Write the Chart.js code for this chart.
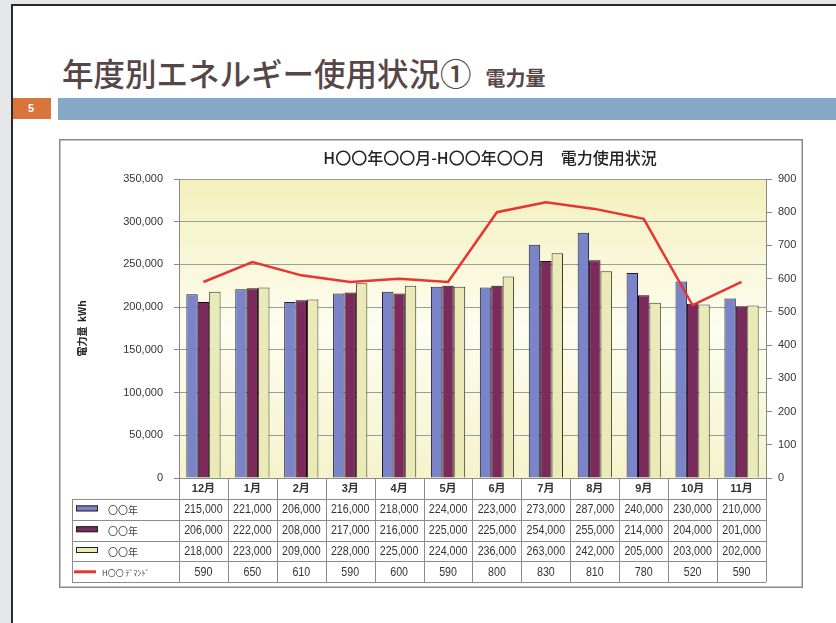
<!DOCTYPE html>
<html lang="ja">
<head>
<meta charset="utf-8">
<script src="https://cdn.jsdelivr.net/npm/chart.js@4"></script>
<style>
  html, body { margin: 0; padding: 0; }
  body { width: 836px; height: 623px; background: #e6e7e9; position: relative; overflow: hidden;
         font-family: "Noto Sans CJK JP", "Noto Sans", sans-serif; }
  #slide { position: absolute; left: 11px; top: 4px; width: 840px; height: 640px; background: #fff;
           border-left: 2px solid #2a2a2a; border-top: 2px solid #2a2a2a; }
  #titre { position: absolute; left: 62px; top: 49px; font-size: 31.5px; color: #574646; font-weight: 500;
           white-space: nowrap; }
  #titre small { font-size: 20px; font-weight: 700; margin-left: 14px; }
  #so { position: absolute; left: 13px; top: 98px; width: 38px; height: 21px; background: #d9743a;
        color: #fff; font: bold 11px "Liberation Sans", sans-serif; line-height: 21px; padding-left: 15px; box-sizing: border-box; }
  #thanh { position: absolute; left: 58px; top: 98px; width: 778px; height: 22px; background: #85a8c7; }
  #khung { position: absolute; left: 59px; top: 139px; width: 744px; height: 449px; }
</style>
</head>
<body>
<div id="slide"></div>
<div id="titre">年度別エネルギー使用状況①<small>電力量</small></div>
<div id="so">5</div>
<div id="thanh"></div>
<div id="khung"><canvas id="bieuDo"></canvas></div>
<script>
// Dữ liệu
const thang = ['12月', '1月', '2月', '3月', '4月', '5月', '6月', '7月', '8月', '9月', '10月', '11月'];
const tieuDe = 'H〇〇年〇〇月-H〇〇年〇〇月　電力使用状況';
const tenNam1 = '〇〇年';
const tenNam2 = '〇〇年';
const tenNam3 = '〇〇年';
const tenDemand = 'H〇〇 ﾃﾞﾏﾝﾄﾞ';
const nam1 = [215000, 221000, 206000, 216000, 218000, 224000, 223000, 273000, 287000, 240000, 230000, 210000];
const nam2 = [206000, 222000, 208000, 217000, 216000, 225000, 225000, 254000, 255000, 214000, 204000, 201000];
const nam3 = [218000, 223000, 209000, 228000, 225000, 224000, 236000, 263000, 242000, 205000, 203000, 202000];
const demand = [590, 650, 610, 590, 600, 590, 800, 830, 810, 780, 520, 590];

const mauNam1 = '#7b83c9';
const mauNam2 = '#7a2a5b';
const mauNam3 = '#eae9b8';
const mauDemand = '#e8352f';

// Nền khung + vùng vẽ + tiêu đề
const nenPlugin = {
    id: 'nen',
    beforeDraw(chart) {
        const ctx = chart.ctx;
        const a = chart.chartArea;
        ctx.save();
        ctx.fillStyle = '#ffffff';
        ctx.fillRect(0, 0, chart.width, chart.height);
        const g = ctx.createLinearGradient(0, a.top, 0, a.bottom);
        g.addColorStop(0, '#f3f0bb');
        g.addColorStop(0.5, '#fdfdf1');
        g.addColorStop(1, '#f5f3cb');
        ctx.fillStyle = g;
        ctx.fillRect(a.left, a.top, a.right - a.left, a.bottom - a.top);

        ctx.fillStyle = '#222';
        ctx.font = '500 16px "Noto Sans CJK JP", sans-serif';
        ctx.textAlign = 'center';
        ctx.textBaseline = 'middle';
        ctx.fillText(tieuDe, 431, 19);
        ctx.restore();
    },
    afterDraw(chart) {
        const ctx = chart.ctx;
        ctx.save();
        ctx.strokeStyle = '#8a8a8a';
        ctx.lineWidth = 1.5;
        ctx.strokeRect(0.75, 0.75, chart.width - 1.5, chart.height - 1.5);
        ctx.restore();
    }
};

// chữ hẹp cho số trong bảng
function vietHep(ctx, text, x, y) {
    ctx.save();
    ctx.translate(x, y);
    ctx.scale(0.82, 1);
    ctx.fillText(text, 0, 0);
    ctx.restore();
}

// Bảng dữ liệu dưới biểu đồ
const bangPlugin = {
    id: 'bang',
    afterDraw(chart) {
        const ctx = chart.ctx;
        const x = chart.scales.x;
        const a = chart.chartArea;
        const w = x.getPixelForValue(1) - x.getPixelForValue(0);
        const trai = x.getPixelForValue(0) - w / 2;
        const phai = x.getPixelForValue(thang.length - 1) + w / 2;
        const dauHang = a.bottom;
        const caoHang = 20.8;
        const hang1 = dauHang + 21;
        const cotChu = 13;
        const hangs = [
            { ten: tenNam1, giaTri: nam1, mau: mauNam1, kieu: 'bar' },
            { ten: tenNam2, giaTri: nam2, mau: mauNam2, kieu: 'bar' },
            { ten: tenNam3, giaTri: nam3, mau: mauNam3, kieu: 'bar' },
            { ten: tenDemand, giaTri: demand, mau: mauDemand, kieu: 'line' }
        ];
        const cuoi = hang1 + caoHang * hangs.length;

        ctx.save();
        ctx.strokeStyle = '#8c8c8c';
        ctx.lineWidth = 1;

        ctx.beginPath();
        ctx.moveTo(trai, dauHang + 0.5); ctx.lineTo(phai, dauHang + 0.5);
        for (let i = 0; i <= thang.length; i++) {
            const px = Math.round(trai + i * w) + 0.5;
            ctx.moveTo(px, dauHang); ctx.lineTo(px, cuoi);
        }
        for (let r = 0; r <= hangs.length; r++) {
            const py = Math.round(hang1 + r * caoHang) + 0.5;
            ctx.moveTo(cotChu, py); ctx.lineTo(phai, py);
        }
        ctx.moveTo(cotChu + 0.5, hang1); ctx.lineTo(cotChu + 0.5, cuoi);
        ctx.stroke();

        ctx.fillStyle = '#333';
        ctx.textAlign = 'center';
        ctx.textBaseline = 'middle';
        ctx.font = 'bold 11px "Liberation Sans", "Noto Sans CJK JP", sans-serif';
        thang.forEach((t, i) => {
            ctx.fillText(t, x.getPixelForValue(i), dauHang + 11);
        });

        hangs.forEach((h, r) => {
            const cy = hang1 + r * caoHang + caoHang / 2;
            ctx.fillStyle = '#333';
            ctx.textAlign = 'center';
            ctx.font = '13px "Liberation Sans", sans-serif';
            h.giaTri.forEach((v, i) => {
                vietHep(ctx, v.toLocaleString('en-US'), x.getPixelForValue(i), cy + 0.5);
            });
            // chú thích
            ctx.textAlign = 'left';
            ctx.fillStyle = '#444';
            if (h.kieu === 'bar') {
                ctx.fillStyle = h.mau;
                ctx.fillRect(17, cy - 4, 22, 6);
                ctx.strokeStyle = '#222';
                ctx.strokeRect(17.5, cy - 3.5, 21, 5);
                ctx.fillStyle = '#444';
                ctx.font = '10px "Noto Sans CJK JP", sans-serif';
                ctx.fillText(h.ten, 49, cy + 1);
            } else {
                ctx.strokeStyle = h.mau;
                ctx.lineWidth = 3;
                ctx.beginPath();
                ctx.moveTo(15, cy); ctx.lineTo(37, cy);
                ctx.stroke();
                ctx.fillStyle = '#444';
                ctx.font = '8px "Noto Sans CJK JP", sans-serif';
                ctx.fillText(h.ten, 43, cy + 1);
            }
        });
        ctx.restore();
    }
};

const ctx = document.getElementById('bieuDo').getContext('2d');
new Chart(ctx, {
    data: {
        labels: thang,
        datasets: [
            { type: 'line', label: tenDemand, data: demand, yAxisID: 'y2', borderColor: mauDemand,
              borderWidth: 2.5, pointRadius: 0, tension: 0, order: 0 },
            { type: 'bar', label: tenNam1, data: nam1, yAxisID: 'y', backgroundColor: mauNam1,
              borderColor: '#1e1e3c', borderWidth: 1, order: 1 },
            { type: 'bar', label: tenNam2, data: nam2, yAxisID: 'y', backgroundColor: mauNam2,
              borderColor: '#1e0a16', borderWidth: 1, order: 1 },
            { type: 'bar', label: tenNam3, data: nam3, yAxisID: 'y', backgroundColor: mauNam3,
              borderColor: '#3a3a2a', borderWidth: 1, order: 1 }
        ]
    },
    options: {
        responsive: true,
        maintainAspectRatio: false,
        animation: false,
        layout: { padding: { left: 0, right: 0, top: 40, bottom: 110 } },
        datasets: { bar: { categoryPercentage: 0.7, barPercentage: 1.0 } },
        plugins: {
            legend: { display: false },
            tooltip: { enabled: false },
            title: { display: false }
        },
        scales: {
            x: { display: false },
            y: {
                position: 'left',
                min: 0, max: 350000,
                ticks: { stepSize: 50000, color: '#333', padding: 11,
                         font: { family: '"Liberation Sans", sans-serif', size: 11 },
                         callback: v => v.toLocaleString('en-US') },
                grid: { color: '#9c9c9c', tickLength: 5, tickColor: '#888' },
                border: { color: '#888' },
                title: { display: true, text: '電力量  kWh', color: '#222', padding: { top: 17 },
                         font: { family: '"Noto Sans CJK JP", sans-serif', size: 10, weight: '700' } },
                afterFit(scale) { scale.width = 120; }
            },
            y2: {
                position: 'right',
                min: 0, max: 900,
                ticks: { stepSize: 100, color: '#333', padding: 6,
                         font: { family: '"Liberation Sans", sans-serif', size: 11 } },
                grid: { drawOnChartArea: false, tickLength: 6, tickColor: '#888' },
                border: { color: '#888' },
                afterFit(scale) { scale.width = 37; }
            }
        }
    },
    plugins: [nenPlugin, bangPlugin]
});
</script>
</body>
</html>
